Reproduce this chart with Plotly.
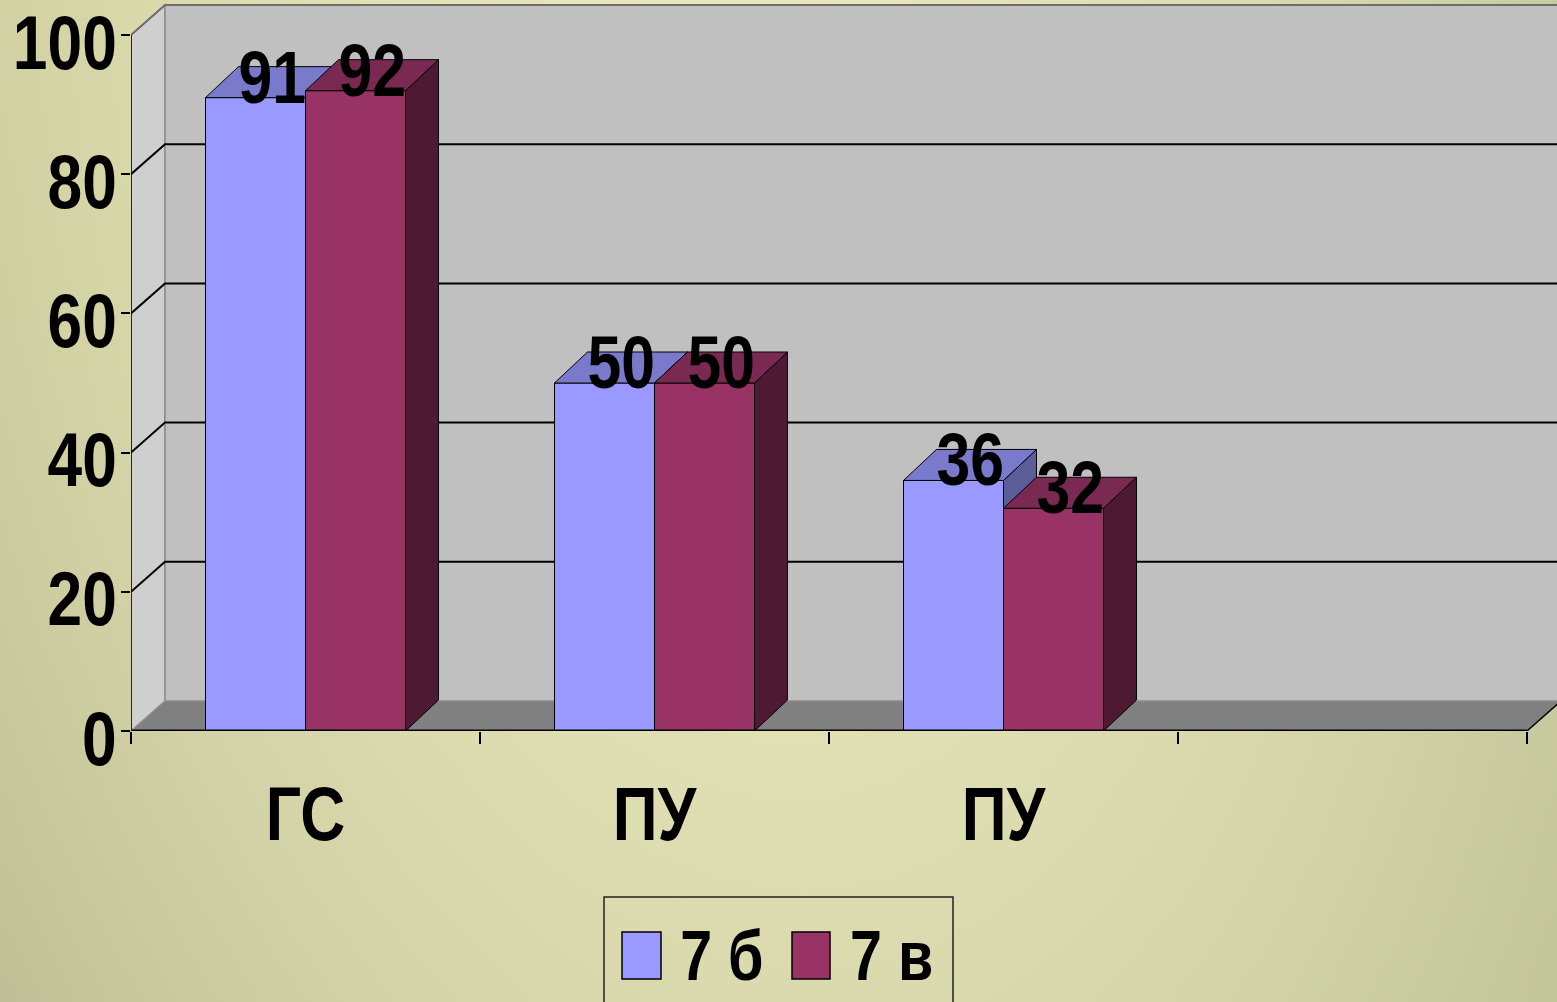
import base64
import struct
import zlib

import numpy as np
import plotly.graph_objects as go

# ---------------------------------------------------------------- data
categories = ["ГС", "ПУ", "ПУ"]
series_names = ["7 б", "7 в"]
values_7b = [91, 50, 36]
values_7v = [92, 50, 32]
y_ticks = [0, 20, 40, 60, 80, 100]

# ---------------------------------------------------------------- style
FRONT = ["#9999FF", "#993366"]
TOP = ["#7A7ACC", "#7A2952"]
SIDE = ["#5C5C99", "#4D1933"]
FONT = "Liberation Sans, Arial, sans-serif"
NARROW = 0.82                         # horizontal squeeze for a narrow face

W, H = 1557, 1002
ML, MB = 131, 271                     # left / bottom margin (px)
PLOT_W, PLOT_H = W - ML, H - MB       # plot area size (px)
SLOT_PX = 349                         # width of one category slot (px)
UNIT_PX = 6.96                        # px per value unit
N_SLOTS = 4                           # category slots on the floor

X_RANGE = [-0.5, -0.5 + PLOT_W / SLOT_PX]
Y_RANGE = [0, PLOT_H / UNIT_PX]


def dx_px(p):
    return p / SLOT_PX


def dy_px(p):
    return p / UNIT_PX


WALL_DX, WALL_DY = dx_px(34), dy_px(30)   # depth of the chart box
BAR_DX, BAR_DY = dx_px(33), dy_px(31)     # depth of each column
BAR_W = dx_px(100)                        # column width


def paper_x(p):
    return (p - ML) / PLOT_W


def paper_y(p):
    return (PLOT_H - p) / PLOT_H


# ---------------------------------------------------------------- background gradient
bg_samples = np.array([
    (0, 0, 209, 209, 163),
    (0, 200, 208, 208, 163),
    (0, 460, 206, 206, 161),
    (60, 700, 203, 203, 160),
    (0, 1002, 193, 194, 152),
    (300, 850, 207, 207, 164),
    (500, 800, 223, 221, 178),
    (620, 900, 220, 220, 176),
    (1000, 0, 230, 229, 184),
    (1250, 0, 219, 219, 176),
    (1557, 0, 201, 201, 160),
    (1000, 800, 222, 221, 177),
    (1300, 780, 212, 213, 169),
    (1557, 780, 201, 202, 160),
    (1557, 1002, 193, 195, 153),
], dtype=float)

sx, sy = bg_samples[:, 0] / W, bg_samples[:, 1] / H
A = np.column_stack([np.ones_like(sx), sx, sy, sx * sx, sx * sy, sy * sy])
coef, *_ = np.linalg.lstsq(A, bg_samples[:, 2:], rcond=None)
gw, gh = 312, 200
gx, gy = np.meshgrid((np.arange(gw) + 0.5) / gw, (np.arange(gh) + 0.5) / gh)
G = np.stack([np.ones_like(gx), gx, gy, gx * gx, gx * gy, gy * gy], axis=-1)
img = np.clip(G @ coef, 0, 255).astype(np.uint8)


def png_uri(rgb):
    h, w, _ = rgb.shape
    raw = b"".join(b"\x00" + rgb[i].tobytes() for i in range(h))

    def chunk(tag, data):
        body = tag + data
        return struct.pack(">I", len(data)) + body + struct.pack(">I", zlib.crc32(body) & 0xFFFFFFFF)

    png = (b"\x89PNG\r\n\x1a\n"
           + chunk(b"IHDR", struct.pack(">IIBBBBB", w, h, 8, 2, 0, 0, 0))
           + chunk(b"IDAT", zlib.compress(raw, 9))
           + chunk(b"IEND", b""))
    return "data:image/png;base64," + base64.b64encode(png).decode()


# ---------------------------------------------------------------- chart box (walls, floor, grid)
x_left, x_right = -0.5, -0.5 + N_SLOTS
y_top = y_ticks[-1]


def poly(pts):
    return "M " + " L ".join(f"{x},{y}" for x, y in pts) + " Z"


def polyline(pts):
    return "M " + " L ".join(f"{x},{y}" for x, y in pts)


shapes = []
# floor
shapes.append(dict(type="path", xref="x", yref="y", layer="below",
                   path=poly([(x_left, 0), (x_right, 0), (x_right + WALL_DX, WALL_DY),
                              (x_left + WALL_DX, WALL_DY)]),
                   fillcolor="#808080", line=dict(width=0)))
# left side wall
shapes.append(dict(type="path", xref="x", yref="y", layer="below",
                   path=poly([(x_left, 0), (x_left, y_top), (x_left + WALL_DX, y_top + WALL_DY),
                              (x_left + WALL_DX, WALL_DY)]),
                   fillcolor="#CFCFCF", line=dict(color="#8C8C8C", width=1.5)))
# back wall
shapes.append(dict(type="path", xref="x", yref="y", layer="below",
                   path=poly([(x_left + WALL_DX, WALL_DY), (x_left + WALL_DX, y_top + WALL_DY),
                              (x_right + WALL_DX, y_top + WALL_DY), (x_right + WALL_DX, WALL_DY)]),
                   fillcolor="#C0C0C0", line=dict(color="#8C8C8C", width=1.5)))
# floor right edge
shapes.append(dict(type="path", xref="x", yref="y", layer="below",
                   path=polyline([(x_right, 0), (x_right + WALL_DX, WALL_DY)]),
                   line=dict(color="black", width=1.5)))
# gridlines on the side and back walls
for v in y_ticks[1:]:
    shapes.append(dict(type="path", xref="x", yref="y", layer="below",
                       path=polyline([(x_left, v), (x_left + WALL_DX, v + WALL_DY),
                                      (x_right + WALL_DX, v + WALL_DY)]),
                       line=dict(color="black" if v < y_top else "#6E6E6E", width=2)))
# value axis line
shapes.append(dict(type="line", xref="x", yref="y", layer="below",
                   x0=x_left, x1=x_left, y0=0, y1=y_top,
                   line=dict(color="black", width=1.5)))
# category axis line
shapes.append(dict(type="line", xref="x", yref="y", layer="above",
                   x0=x_left, x1=x_right, y0=0, y1=0,
                   line=dict(color="black", width=3)))

# ---------------------------------------------------------------- columns
fig = go.Figure()
idx = list(range(len(categories)))
axes = [("x", "y"), ("x2", "y2")]

for s, (name, vals) in enumerate(zip(series_names, [values_7b, values_7v])):
    xa, ya = axes[s]
    off = -BAR_W + s * BAR_W
    fig.add_trace(go.Bar(
        x=idx, y=vals, name=name, width=BAR_W, offset=off,
        marker=dict(color=FRONT[s], line=dict(color="black", width=1)),
        xaxis=xa, yaxis=ya, showlegend=False, hoverinfo="skip"))
    for i, v in zip(idx, vals):
        x0 = i + off
        x1 = x0 + BAR_W
        fig.add_trace(go.Scatter(
            x=[x1, x1 + BAR_DX, x1 + BAR_DX, x1, x1],
            y=[0, BAR_DY, v + BAR_DY, v, 0],
            mode="lines", fill="toself", fillcolor=SIDE[s],
            line=dict(color="black", width=1), xaxis=xa, yaxis=ya,
            showlegend=False, hoverinfo="skip"))
        fig.add_trace(go.Scatter(
            x=[x0, x1, x1 + BAR_DX, x0 + BAR_DX, x0],
            y=[v, v, v + BAR_DY, v + BAR_DY, v],
            mode="lines", fill="toself", fillcolor=TOP[s],
            line=dict(color="black", width=1), xaxis=xa, yaxis=ya,
            showlegend=False, hoverinfo="skip"))

# ---------------------------------------------------------------- data labels
annotations = []
for s, vals in enumerate([values_7b, values_7v]):
    off = -BAR_W + s * BAR_W
    for i, v in zip(idx, vals):
        annotations.append(dict(
            x=i + off + BAR_W / 2 + BAR_DX / 2, y=v + BAR_DY / 2, xref="x", yref="y",
            text=str(v), showarrow=False, yshift=5,
            font=dict(family=FONT, size=74, color="black", weight="bold")))

# ---------------------------------------------------------------- legend box
shapes.append(dict(type="rect", xref="paper", yref="paper", layer="above",
                   x0=paper_x(604), x1=paper_x(953), y0=paper_y(1012), y1=paper_y(897),
                   line=dict(color="#222222", width=1.5), fillcolor="rgba(0,0,0,0)"))
legend_swatch_x = [(622, 661), (792, 830)]
legend_text_x = [669, 839]
for s, name in enumerate(series_names):
    sx0, sx1 = legend_swatch_x[s]
    shapes.append(dict(type="rect", xref="paper", yref="paper", layer="above",
                       x0=paper_x(sx0), x1=paper_x(sx1), y0=paper_y(979), y1=paper_y(932),
                       fillcolor=FRONT[s], line=dict(color="black", width=1.5)))
    annotations.append(dict(
        x=paper_x(legend_text_x[s]), y=paper_y(956), xref="paper", yref="paper",
        xanchor="left", yanchor="middle", text=name, showarrow=False,
        font=dict(family=FONT, size=70, color="black", weight="bold")))

# ---------------------------------------------------------------- layout
tick_font = dict(family=FONT, size=76, color="black", weight="bold")

fig.update_layout(
    width=W, height=H,
    margin=dict(l=ML, r=0, t=0, b=MB, pad=0, autoexpand=False),
    paper_bgcolor="#D8D8AE", plot_bgcolor="rgba(0,0,0,0)",
    showlegend=False,
    barmode="overlay",
    shapes=shapes,
    annotations=annotations,
    images=[dict(source=png_uri(img), xref="paper", yref="paper",
                 x=paper_x(0), y=paper_y(0), sizex=W / PLOT_W, sizey=H / PLOT_H,
                 xanchor="left", yanchor="top", sizing="stretch", layer="below")],
    xaxis=dict(range=X_RANGE, tickmode="array", tickvals=idx, ticktext=categories,
               ticks="", showgrid=False, zeroline=False, showline=False,
               tickfont=tick_font, ticklabelstandoff=32, ticklabeloverflow="allow",
               minor=dict(tickmode="array",
                          tickvals=[x_left + k for k in range(N_SLOTS + 1)],
                          ticks="outside", ticklen=12, tickwidth=2, tickcolor="black",
                          showgrid=False)),
    yaxis=dict(range=Y_RANGE, tickmode="array", tickvals=y_ticks,
               ticks="outside", ticklen=9, tickwidth=2, tickcolor="black",
               showgrid=False, zeroline=False, showline=False,
               tickfont=tick_font, ticklabelstandoff=-11, ticklabelshift=7,
               ticklabeloverflow="allow"),
    xaxis2=dict(range=X_RANGE, overlaying="x", anchor="y2", visible=False),
    yaxis2=dict(range=Y_RANGE, overlaying="y", anchor="x2", visible=False),
)

# Narrow the bold face horizontally (keeps the glyph height, squeezes the advance).
narrow_js = """
var gd = document.getElementById('{plot_id}');
gd.querySelectorAll('.xtick text, .ytick text, .annotation-text').forEach(function (t) {
    var w = t.getComputedTextLength();
    if (w > 0) {
        t.setAttribute('textLength', (w * %s).toFixed(1));
        t.setAttribute('lengthAdjust', 'spacingAndGlyphs');
    }
});
""" % NARROW

fig.write_html("out.html", post_script=narrow_js)
